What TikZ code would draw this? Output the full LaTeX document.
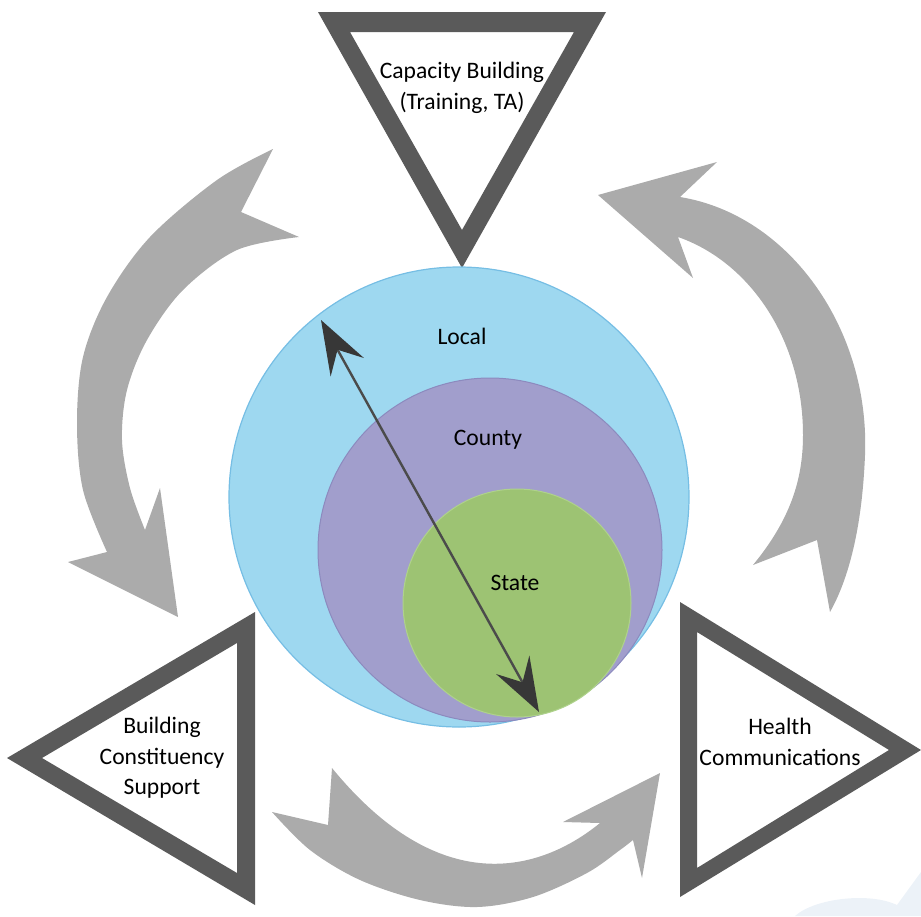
\documentclass[tikz,border=0pt]{standalone}
\usepackage{fontspec}
\setmainfont{Carlito}
\usepackage{tikz}
\usetikzlibrary{arrows.meta}
\definecolor{framegray}{RGB}{90,90,90}
\definecolor{sweepgray}{RGB}{171,171,171}
\definecolor{localblue}{RGB}{158,216,240}
\definecolor{localedge}{RGB}{118,190,228}
\definecolor{countypurple}{RGB}{161,158,204}
\definecolor{countyedge}{RGB}{140,138,190}
\definecolor{stategreen}{RGB}{157,195,115}
\definecolor{stateedge}{RGB}{175,210,140}
\definecolor{pointergray}{RGB}{75,75,75}
\definecolor{headgray}{RGB}{55,55,55}
\definecolor{haze}{RGB}{236,242,248}
\tikzstyle{frame} = [fill=framegray, even odd rule]
\tikzstyle{sweep} = [fill=sweepgray]
\tikzstyle{lbl} = [align=center, text=black, font=\fontsize{11.8}{15.2}\selectfont]
\tikzstyle{pointer} = [line width=1.2pt, draw=pointergray, {Stealth[length=27pt,width=19pt,inset=10pt,color=headgray]}-{Stealth[length=27pt,width=19pt,inset=10pt,color=headgray]}]

\begin{document}
\begin{tikzpicture}[x=0.5pt, y=-0.5pt]
\useasboundingbox (0,0) rectangle (921,916);

% faint patch, bottom right
\fill[haze] (795,916) .. controls (815,898) and (870,892) .. (897,905) -- (921,872) -- (921,916) -- cycle;

% curved arrows
\fill[sweep] plot[smooth, tension=0.55] coordinates {(273,149) (217,180) (150,237) (107,297) (83,357) (77,423) (83,490) (107,552)}
  -- (68,562) -- (178,617) -- (160,488)
  -- plot[smooth, tension=0.55] coordinates {(145,530) (130,488) (122,440) (127,390) (147,340) (183,290) (237,250) (299,237)}
  -- (241,212) -- cycle;
\fill[sweep] (598,195) -- (717,162) -- (680,197)
  .. controls (790,215) and (870,330) .. (865,455)
  .. controls (862,530) and (848,580) .. (830,612)
  -- (817,540) -- (753,565)
  .. controls (790,520) and (803,480) .. (803,435)
  .. controls (803,340) and (750,262) .. (678,237)
  -- (693,278) -- cycle;
\fill[sweep] (332,768) -- (328,825)
  -- plot[smooth, tension=0.55] coordinates {(272,812) (310,850) (360,880) (420,900) (477,907) (533,897) (587,873) (620,850) (633,840)}
  -- (642,878) -- (660,773) -- (563,822) -- (600,823)
  .. controls (540,872) and (440,900) .. (332,768)
  -- cycle;

% triangles
\fill[frame] (318,12) -- (606,12) -- (462,268) -- cycle (350,32) -- (574,32) -- (462,230) -- cycle;
\fill[frame] (255,612) -- (255,905) -- (7,758) -- cycle (237,643) -- (237,873) -- (42,758) -- cycle;
\fill[frame] (680,602) -- (680,897) -- (921,750) -- cycle (697,632) -- (697,868) -- (889,750) -- cycle;

% nested levels
\filldraw[fill=localblue, draw=localedge, line width=0.6pt] (459,497) circle [radius=115pt];
\filldraw[fill=countypurple, draw=countyedge, line width=0.5pt] (490,550) circle [radius=86pt];
\filldraw[fill=stategreen, draw=stateedge, line width=0.5pt] (517,603) circle [radius=57pt];

\node (local) [lbl] at (462,336) {Local};
\node (county) [lbl] at (488,440) {County};
\node (state) [lbl] at (515,583) {State};

\coordinate (outerend) at (321,320);
\coordinate (innerend) at (539,712);
\draw [pointer] (outerend) -- (innerend);

% triangle texts
\node (capacity) [lbl] at (462,88) {Capacity Building\\(Training, TA)};
\node (constituency) [lbl] at (162,758) {Building\\Constituency\\Support};
\node (healthcomm) [lbl] at (780,742) {Health\\Communications};

\end{tikzpicture}
\end{document}
